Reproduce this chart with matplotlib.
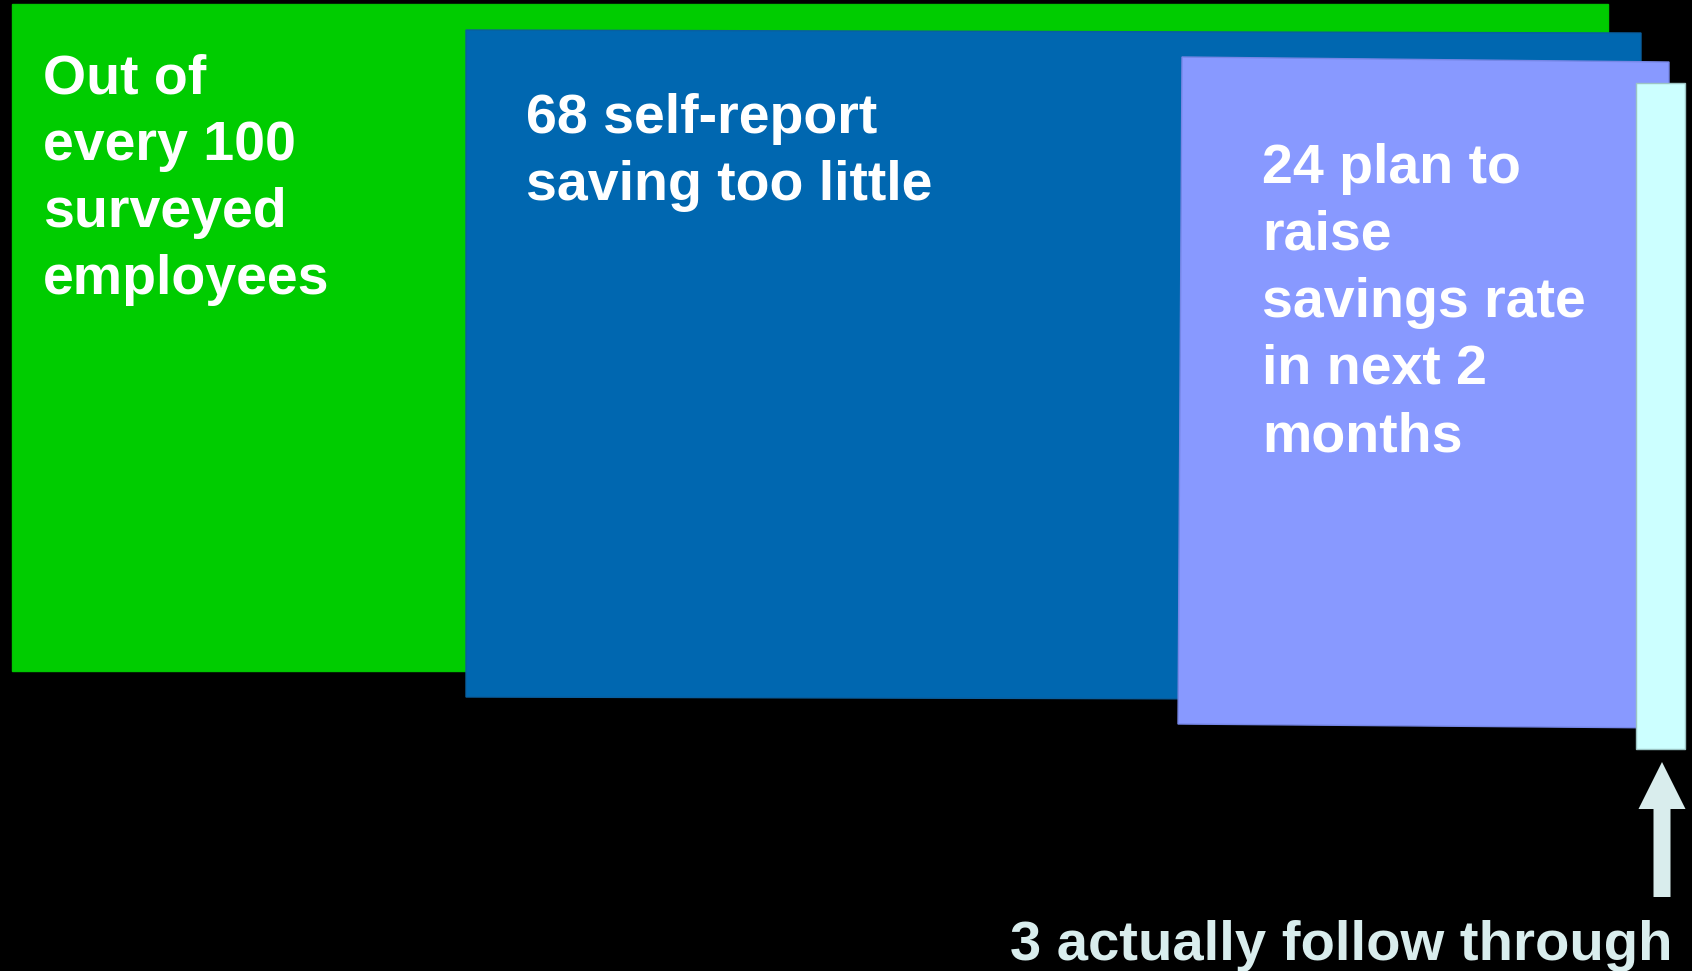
import matplotlib.pyplot as plt
from matplotlib.patches import Polygon, FancyArrow

# survey funnel: out of 100 employees
counts = [100, 68, 24, 3]
captions = [
    "Out of\nevery {}\nsurveyed\nemployees",
    "{} self-report\nsaving too little",
    "{} plan to\nraise\nsavings rate\nin next 2\nmonths",
    "{} actually follow through",
]
colors = ["#00cc00", "#0067b0", "#8899ff", "#ccffff"]
edge_colors = ["#00c400", "#0a5f9f", "#7686e6", "#9cc4c4"]

# panel corners in pixel space (TL, TR, BR, BL)
panels = [
    [(12, 4), (1608, 4), (1608, 671), (12, 671)],
    [(466, 30), (1641, 33), (1641, 700), (466, 697)],
    [(1182, 57), (1669, 62), (1669, 728), (1178, 724)],
    [(1636, 83), (1685, 83), (1685, 749), (1636, 749)],
]
# text anchor (left x, first baseline y, line step)
text_pos = [(43, 93, 67), (526, 133, 67), (1262, 183, 67)]

W, H = 1692, 971
fig = plt.figure(figsize=(W / 100, H / 100), dpi=100)
fig.patch.set_facecolor("black")
ax = fig.add_axes([0, 0, 1, 1])
ax.set_xlim(0, W)
ax.set_ylim(H, 0)
ax.axis("off")

font = dict(family="Liberation Sans", weight="bold")

for i, (pts, c, ec) in enumerate(zip(panels, colors, edge_colors)):
    ax.add_patch(Polygon(pts, closed=True, facecolor=c, edgecolor=ec, lw=1.0, zorder=i + 1))

for i in range(3):
    x0, y0, step = text_pos[i]
    lines = captions[i].format(counts[i]).split("\n")
    for k, ln in enumerate(lines):
        ax.text(x0, y0 + k * step, ln, color="white", fontsize=40, ha="left",
                va="baseline", zorder=10, **font)

# arrow pointing at the thin last panel
ax.add_patch(FancyArrow(1662, 897, 0, -135, width=17, head_width=47, head_length=47,
                        length_includes_head=True, facecolor="#d9eded",
                        edgecolor="none", zorder=10))
ax.text(1673, 960, captions[3].format(counts[3]), color="#d9eded", fontsize=40.5,
        ha="right", va="baseline", zorder=10, **font)

fig.savefig("out.png", dpi=100, facecolor="black")
